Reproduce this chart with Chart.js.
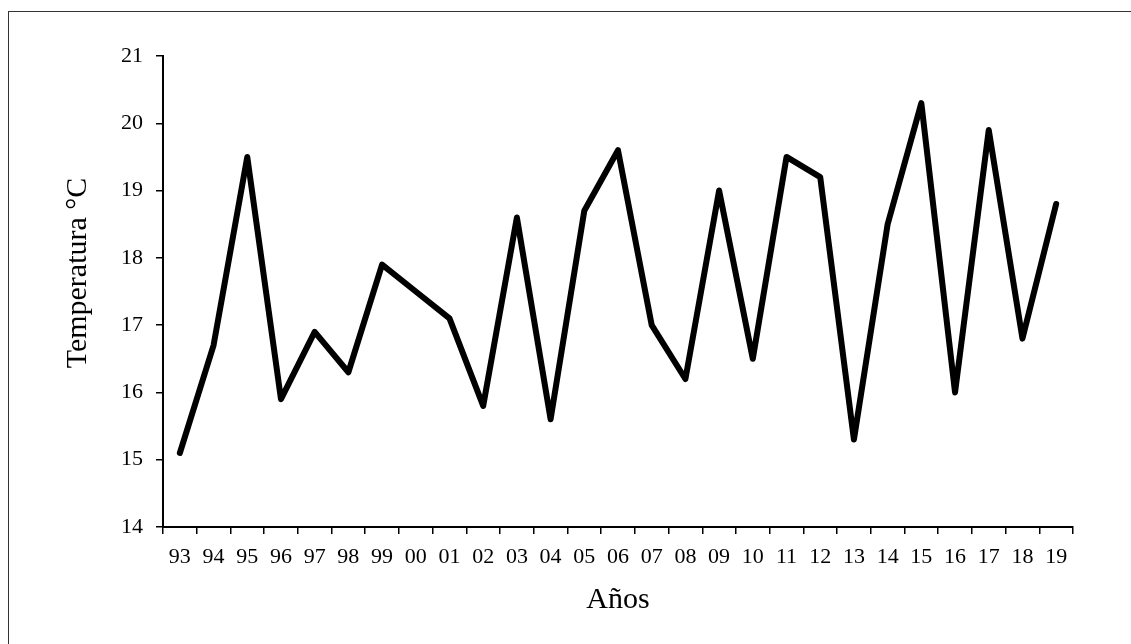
<!DOCTYPE html>
<html>
<head>
<meta charset="utf-8">
<script src="https://cdn.jsdelivr.net/npm/chart.js@4.4.1/dist/chart.umd.min.js"></script>
<style>
  html, body { margin: 0; padding: 0; background: #fff; }
  #wrap { position: relative; width: 1131px; height: 644px; }
  #frame {
    position: absolute; left: 8px; top: 11px; right: 0; bottom: 0;
    border-top: 1.5px solid #333; border-left: 1.5px solid #333;
    pointer-events: none;
  }
</style>
</head>
<body>
<div id="wrap">
  <canvas id="chart" width="1131" height="644"></canvas>
  <div id="frame"></div>
</div>
<script>
// years (two digits) and mean temperature
const years = ["93", "94", "95", "96", "97", "98", "99", "00", "01", "02", "03", "04", "05", "06",
  "07", "08", "09", "10", "11", "12", "13", "14", "15", "16", "17", "18", "19"];
const temps = [15.1, 16.7, 19.5, 15.9, 16.9, 16.3, 17.9, 17.5, 17.1, 15.8, 18.6, 15.6, 18.7, 19.6,
  17.0, 16.2, 19.0, 16.5, 19.5, 19.2, 15.3, 18.5, 20.3, 16.0, 19.9, 16.8, 18.8];
const yMin = 14;
const yMax = 21;

const serif = "'Liberation Serif', 'Times New Roman', serif";

// y axis title sits a bit above the middle of the axis in the original
const yTitle = {
  id: "yTitle",
  afterDraw(chart) {
    const c = chart.ctx;
    c.save();
    c.translate(78, 273);
    c.rotate(-Math.PI / 2);
    c.font = "30px " + serif;
    c.fillStyle = "#000";
    c.textAlign = "center";
    c.textBaseline = "middle";
    c.fillText("Temperatura °C", 0, 0);
    c.restore();
  },
};

const ctx = document.getElementById("chart").getContext("2d");

new Chart(ctx, {
  type: "line",
  data: {
    labels: years,
    datasets: [
      {
        data: temps,
        borderColor: "#000",
        borderWidth: 6,
        pointRadius: 0,
        borderCapStyle: "round",
        borderJoinStyle: "round",
        tension: 0,
        fill: false,
      },
    ],
  },
  options: {
    responsive: false,
    animation: false,
    layout: { padding: { left: 0, right: 58, top: 56, bottom: 0 } },
    plugins: {
      legend: { display: false },
      tooltip: { enabled: false },
    },
    scales: {
      x: {
        offset: true,
        grid: {
          offset: true,
          drawOnChartArea: false,
          drawTicks: true,
          tickLength: 7,
          color: "#000",
          lineWidth: 1.5,
        },
        border: { display: true, color: "#000", width: 2 },
        ticks: {
          color: "#000",
          padding: 10,
          maxRotation: 0,
          autoSkip: false,
          font: { family: serif, size: 22 },
        },
        title: {
          display: true,
          text: "Años",
          color: "#000",
          font: { family: serif, size: 30 },
          padding: { top: 0, bottom: 26 },
        },
        afterFit: (scale) => { scale.height = 117; },
      },
      y: {
        min: yMin,
        max: yMax,
        grid: {
          drawOnChartArea: false,
          drawTicks: true,
          tickLength: 7,
          color: "#000",
          lineWidth: 1.5,
        },
        border: { display: true, color: "#000", width: 2 },
        ticks: {
          stepSize: 1,
          color: "#000",
          padding: 13,
          font: { family: serif, size: 22 },
        },
        afterFit: (scale) => { scale.width = 163; },
      },
    },
  },
  plugins: [yTitle],
});
</script>
</body>
</html>
